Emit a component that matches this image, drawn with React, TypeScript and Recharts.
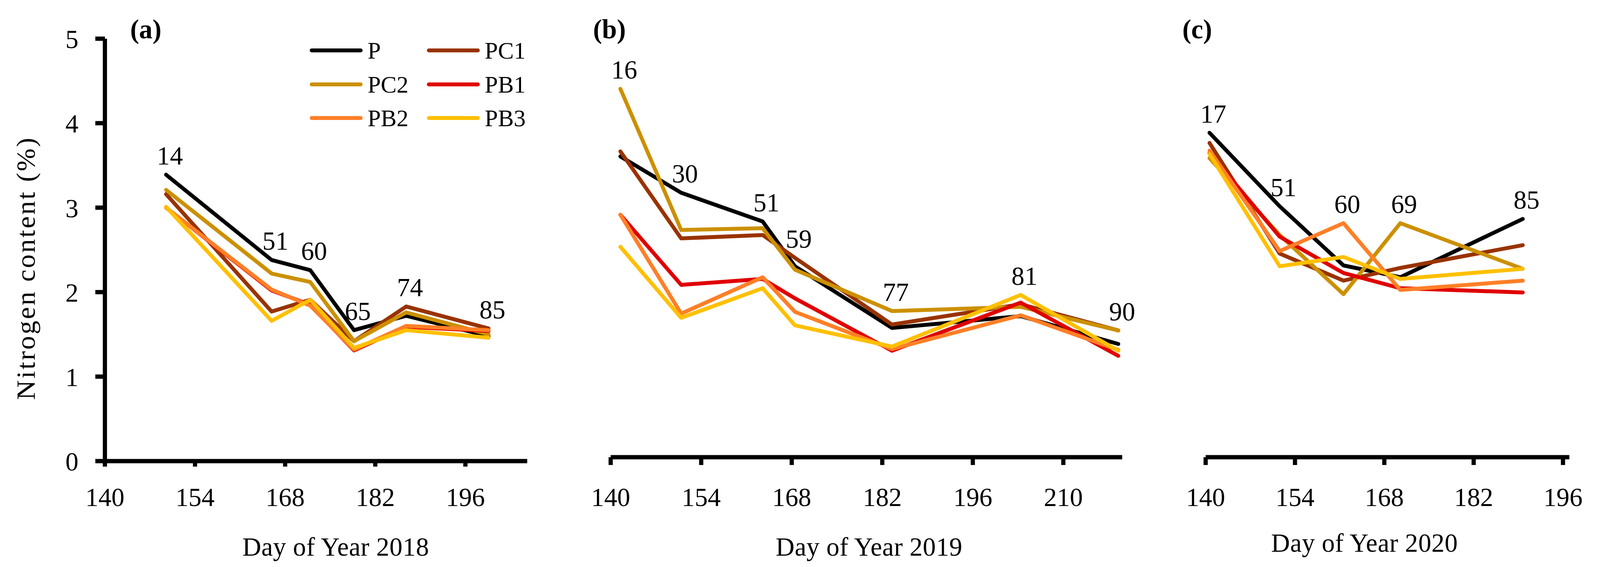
import { LineChart, Line, XAxis, YAxis, Legend } from "recharts";

const FONT = "'Liberation Serif', 'Times New Roman', serif";

// figure size in reference pixels
const FIG_W = 4179;
const FIG_H = 1451;

const SERIES = [
  { key: "P", color: "#000000" },
  { key: "PC1", color: "#993300" },
  { key: "PC2", color: "#CC9000" },
  { key: "PB1", color: "#E00000" },
  { key: "PB2", color: "#FF7F27" },
  { key: "PB3", color: "#FFC000" },
];

// (a) 2018
const DAY_A = [149.5, 165.9, 171.9, 178.7, 186.8, 199.6];
const NOTE_A = ["14", "51", "60", "65", "74", "85"];
const P_A = [3.39, 2.38, 2.26, 1.55, 1.72, 1.48];
const PC1_A = [3.16, 1.77, 1.91, 1.42, 1.83, 1.57];
const PC2_A = [3.21, 2.22, 2.12, 1.42, 1.76, 1.5];
const PB1_A = [3.0, 2.02, 1.85, 1.31, 1.59, 1.54];
const PB2_A = [3.0, 2.03, 1.84, 1.32, 1.6, 1.55];
const PB3_A = [3.01, 1.66, 1.91, 1.34, 1.55, 1.46];

// (b) 2019
const DAY_B = [141.5, 150.9, 163.5, 168.5, 183.5, 203.4, 218.5];
const NOTE_B = ["16", "30", "51", "59", "77", "81", "90"];
const P_B = [3.56, 3.13, 2.79, 2.26, 1.53, 1.67, 1.34];
const PC1_B = [3.62, 2.59, 2.63, 2.36, 1.57, 1.81, 1.5];
const PC2_B = [4.36, 2.69, 2.71, 2.22, 1.73, 1.78, 1.5];
const PB1_B = [2.87, 2.04, 2.11, 1.88, 1.26, 1.83, 1.2];
const PB2_B = [2.87, 1.7, 2.13, 1.72, 1.28, 1.68, 1.27];
const PB3_B = [2.49, 1.65, 2.0, 1.56, 1.31, 1.92, 1.26];

// (c) 2020
const DAY_C = [140.6, 151.6, 161.6, 170.5, 189.7];
const NOTE_C = ["17", "51", "60", "69", "85"];
const P_C = [3.84, 2.97, 2.27, 2.13, 2.82];
const PC1_C = [3.72, 2.41, 2.09, 2.24, 2.51];
const PC2_C = [3.54, 2.63, 1.93, 2.77, 2.23];
const PB1_C = [3.6, 2.61, 2.18, 2.0, 1.95];
const PB2_C = [3.63, 2.44, 2.77, 1.98, 2.09];
const PB3_C = [3.59, 2.26, 2.37, 2.11, 2.23];

const X_TICKS_A = [140, 154, 168, 182, 196];
const X_TICKS_B = [140, 154, 168, 182, 196, 210];
const X_TICKS_C = [140, 154, 168, 182, 196];
const Y_TICKS = [0, 1, 2, 3, 4, 5];

function buildRows(days: number[], notes: string[], cols: number[][]) {
  return days.map((day, i) => {
    const row: Record<string, any> = { day, note: notes[i] };
    SERIES.forEach((s, k) => {
      row[s.key] = cols[k][i];
    });
    // annotation sits above the highest series at that date
    row.top = Math.max(...cols.map((c) => c[i]));
    return row;
  });
}

const DATA_A = buildRows(DAY_A, NOTE_A, [P_A, PC1_A, PC2_A, PB1_A, PB2_A, PB3_A]);
const DATA_B = buildRows(DAY_B, NOTE_B, [P_B, PC1_B, PC2_B, PB1_B, PB2_B, PB3_B]);
const DATA_C = buildRows(DAY_C, NOTE_C, [P_C, PC1_C, PC2_C, PB1_C, PB2_C, PB3_C]);

const tickStyle = { fill: "#000", fontSize: 68, fontFamily: FONT };
const axisStroke = { stroke: "#000", strokeWidth: 11 };

function renderNote(props: any) {
  const { cx, cy, payload, index } = props;
  if (cx == null || cy == null) return <g key={`n${index}`} />;
  return (
    <text
      key={`n${index}`}
      x={cx + 10}
      y={cy - 26}
      textAnchor="middle"
      fontSize={68}
      fontFamily={FONT}
      fill="#000"
    >
      {payload.note}
    </text>
  );
}

function LegendBox() {
  return (
    <div
      style={{
        display: "grid",
        gridTemplateColumns: "306px 300px",
        fontFamily: FONT,
        fontSize: 62,
        color: "#000",
      }}
    >
      {SERIES.map((s) => (
        <div
          key={s.key}
          style={{ display: "flex", alignItems: "center", height: 86.5, lineHeight: "86px" }}
        >
          <svg width={140} height={12} style={{ marginRight: 12 }}>
            <line x1={6} y1={6} x2={134} y2={6} stroke={s.color} strokeWidth={10} strokeLinecap="round" />
          </svg>
          <span>{s.key}</span>
        </div>
      ))}
    </div>
  );
}

function seriesLines() {
  return SERIES.map((s) => (
    <Line
      key={s.key}
      type="linear"
      dataKey={s.key}
      stroke={s.color}
      strokeWidth={10}
      strokeLinejoin="round"
      strokeLinecap="round"
      dot={false}
      activeDot={false}
      isAnimationActive={false}
    />
  ));
}

function noteLine() {
  return (
    <Line
      dataKey="top"
      stroke="none"
      dot={renderNote}
      activeDot={false}
      legendType="none"
      isAnimationActive={false}
    />
  );
}

const abs = (left: number, top: number): React.CSSProperties => ({
  position: "absolute",
  left,
  top,
});

const titleStyle: React.CSSProperties = {
  fontFamily: FONT,
  fontSize: 68,
  lineHeight: "68px",
  color: "#000",
  whiteSpace: "nowrap",
  letterSpacing: 0.5,
};

const panelStyle: React.CSSProperties = {
  fontFamily: FONT,
  fontSize: 70,
  lineHeight: "70px",
  fontWeight: "bold",
  color: "#000",
};

export default function App() {
  // fit the figure to the real viewport (it can be narrower than the figure)
  const vw = typeof window !== "undefined" ? window.innerWidth : FIG_W;
  const vh = typeof window !== "undefined" ? window.innerHeight : FIG_H;
  const sx = Math.min(1, vw / FIG_W);
  const sy = Math.min(1, vh / FIG_H);

  return (
    <div
      style={{
        position: "absolute",
        left: 0,
        top: 0,
        width: FIG_W,
        height: FIG_H,
        background: "#fff",
        overflow: "hidden",
        transform: `scale(${sx}, ${sy})`,
        transformOrigin: "0 0",
      }}
    >
      {/* (a) 2018 */}
      <div style={abs(0, 0)}>
        <LineChart
          width={1420}
          height={1451}
          data={DATA_A}
          margin={{ top: 99, right: 43, bottom: 171, left: 0 }}
        >
          <XAxis
            type="number"
            dataKey="day"
            domain={[140, 205.6]}
            ticks={X_TICKS_A}
            interval={0}
            height={100}
            axisLine={axisStroke}
            tickLine={axisStroke}
            tickSize={14}
            tickMargin={53}
            tick={tickStyle}
          />
          <YAxis
            type="number"
            domain={[0, 5]}
            ticks={Y_TICKS}
            interval={0}
            width={274}
            axisLine={axisStroke}
            tickLine={axisStroke}
            tickSize={25}
            tickMargin={44}
            tick={tickStyle}
          />
          <Legend
            layout="vertical"
            align="center"
            verticalAlign="middle"
            content={() => <LegendBox />}
            wrapperStyle={{ left: 808, top: 86, width: 620 }}
          />
          {seriesLines()}
          {noteLine()}
        </LineChart>
      </div>

      {/* (b) 2019 */}
      <div style={abs(1450, 0)}>
        <LineChart
          width={1520}
          height={1451}
          data={DATA_B}
          margin={{ top: 89, right: 39, bottom: 181, left: 145 }}
        >
          <XAxis
            type="number"
            dataKey="day"
            domain={[140, 219.1]}
            ticks={X_TICKS_B}
            interval={0}
            height={100}
            axisLine={axisStroke}
            tickLine={axisStroke}
            tickSize={20}
            tickMargin={57}
            tick={tickStyle}
          />
          <YAxis type="number" domain={[0, 5]} hide />
          {seriesLines()}
          {noteLine()}
        </LineChart>
      </div>

      {/* (c) 2020 */}
      <div style={abs(3000, 0)}>
        <LineChart
          width={1179}
          height={1451}
          data={DATA_C}
          margin={{ top: 89, right: 80, bottom: 181, left: 149 }}
        >
          <XAxis
            type="number"
            dataKey="day"
            domain={[140, 197]}
            ticks={X_TICKS_C}
            interval={0}
            height={100}
            axisLine={axisStroke}
            tickLine={axisStroke}
            tickSize={20}
            tickMargin={57}
            tick={tickStyle}
          />
          <YAxis type="number" domain={[0, 5]} hide />
          {seriesLines()}
          {noteLine()}
        </LineChart>
      </div>

      {/* panel letters */}
      <div style={{ ...abs(340, 40), ...panelStyle }}>(a)</div>
      <div style={{ ...abs(1549, 40), ...panelStyle }}>(b)</div>
      <div style={{ ...abs(3088, 40), ...panelStyle }}>(c)</div>

      {/* axis titles */}
      <div style={{ ...abs(633, 1365), ...titleStyle }}>Day of Year 2018</div>
      <div style={{ ...abs(2026, 1365), ...titleStyle }}>Day of Year 2019</div>
      <div style={{ ...abs(3320, 1355), ...titleStyle }}>Day of Year 2020</div>

      <div
        style={{
          ...abs(68 - 360, 686 - 40),
          width: 720,
          height: 80,
          fontFamily: FONT,
          fontSize: 70,
          lineHeight: "80px",
          letterSpacing: 4,
          textAlign: "center",
          whiteSpace: "nowrap",
          transform: "rotate(-90deg)",
          transformOrigin: "50% 50%",
          color: "#000",
        }}
      >
        Nitrogen content (%)
      </div>
    </div>
  );
}
